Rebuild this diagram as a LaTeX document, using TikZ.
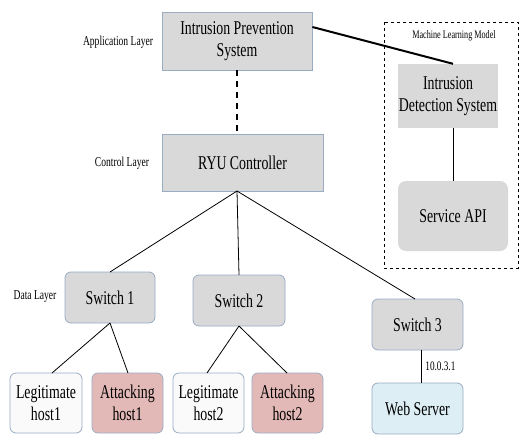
\documentclass[tikz,border=0pt]{standalone}
\usepackage{fontspec}
\setmainfont{Liberation Serif}[FakeStretch=0.71]
\definecolor{boxgray}{HTML}{D9D9D9}
\definecolor{edgeblue}{HTML}{9AABC4}
\definecolor{hostwhite}{HTML}{FAFAFA}
\definecolor{attackpink}{HTML}{E3B9B8}
\definecolor{serverblue}{HTML}{DDEEF5}
\begin{document}
\begin{tikzpicture}[x=1pt,y=-1pt,
  sq/.style={draw=edgeblue,line width=0.8pt,fill=boxgray,inner sep=0pt,align=center,font=\fontsize{19.5}{22}\selectfont},
  rnd/.style={sq,rounded corners=6pt},
  plain/.style={fill=boxgray,inner sep=0pt,align=center,font=\fontsize{19.5}{22}\selectfont},
  lbl/.style={font=\fontsize{13.5}{15}\selectfont,inner sep=0pt},
  link/.style={line width=0.8pt}]
\useasboundingbox (0,0) rectangle (519,434);
% ML model dashed box
\draw[dashed,line width=0.9pt] (384,22) rectangle (518,268);
\node[font=\fontsize{11.5}{13}\selectfont,inner sep=0pt] (mlm) at (454,36) {Machine Learning Model};
% nodes
\node[sq,minimum width=150pt,minimum height=58pt] (ips) at (237,41) {Intrusion Prevention\\System};
\node[sq,minimum width=161pt,minimum height=57pt] (ryu) at (242.5,162.5) {RYU Controller};
\node[plain,minimum width=100pt,minimum height=64pt] (ids) at (448,96) {Intrusion\\Detection System};
\node[plain,rounded corners=8pt,minimum width=110pt,minimum height=70pt] (api) at (453,216) {Service API};
\node[rnd,minimum width=90pt,minimum height=51pt] (s1) at (110,297.5) {Switch 1};
\node[rnd,minimum width=92pt,minimum height=51pt] (s2) at (239,300.5) {Switch 2};
\node[rnd,minimum width=91pt,minimum height=51pt] (s3) at (417.5,324.5) {Switch 3};
\node[rnd,fill=serverblue,minimum width=91pt,minimum height=51pt] (web) at (417.5,408.5) {Web Server};
\node[rnd,fill=hostwhite,minimum width=72pt,minimum height=60pt] (lh1) at (46,403) {Legitimate\\host1};
\node[rnd,fill=attackpink,minimum width=71pt,minimum height=60pt] (ah1) at (127.5,403) {Attacking\\host1};
\node[rnd,fill=hostwhite,minimum width=71pt,minimum height=60pt] (lh2) at (208.5,403) {Legitimate\\host2};
\node[rnd,fill=attackpink,minimum width=71pt,minimum height=60pt] (ah2) at (287.5,403) {Attacking\\host2};
% layer labels
\node[lbl] (app) at (118,42) {Application Layer};
\node[lbl] (ctl) at (122,163) {Control Layer};
\node[lbl] (dat) at (35,297) {Data Layer};
% connectors
\draw[link,dashed,line width=1.2pt,dash pattern=on 6pt off 5pt] (ips.south) -- (ryu.north -| ips.south);
\draw[line width=2pt] (ips.east |- 0,27) -- (ids.north -| 453,0);
\draw[link] (453,128) coordinate (idsb) -- (453,181) coordinate (apit);
\draw[link] (237,191) coordinate (ryub) -- (110,272);
\draw[link] (ryub) -- (239,275);
\draw[link] (ryub) -- (415,299);
\draw[link] (110,323) -- (52,373);
\draw[link] (110,323) -- (128,373);
\draw[link] (239,326) -- (207,373);
\draw[link] (239,326) -- (287,373);
\draw[link] (s3.south -| 421,0) -- node[right,inner sep=0pt,font=\fontsize{13}{15}\selectfont,xshift=4pt] (ip) {10.0.3.1} (web.north -| 421,0);
\end{tikzpicture}
\end{document}
